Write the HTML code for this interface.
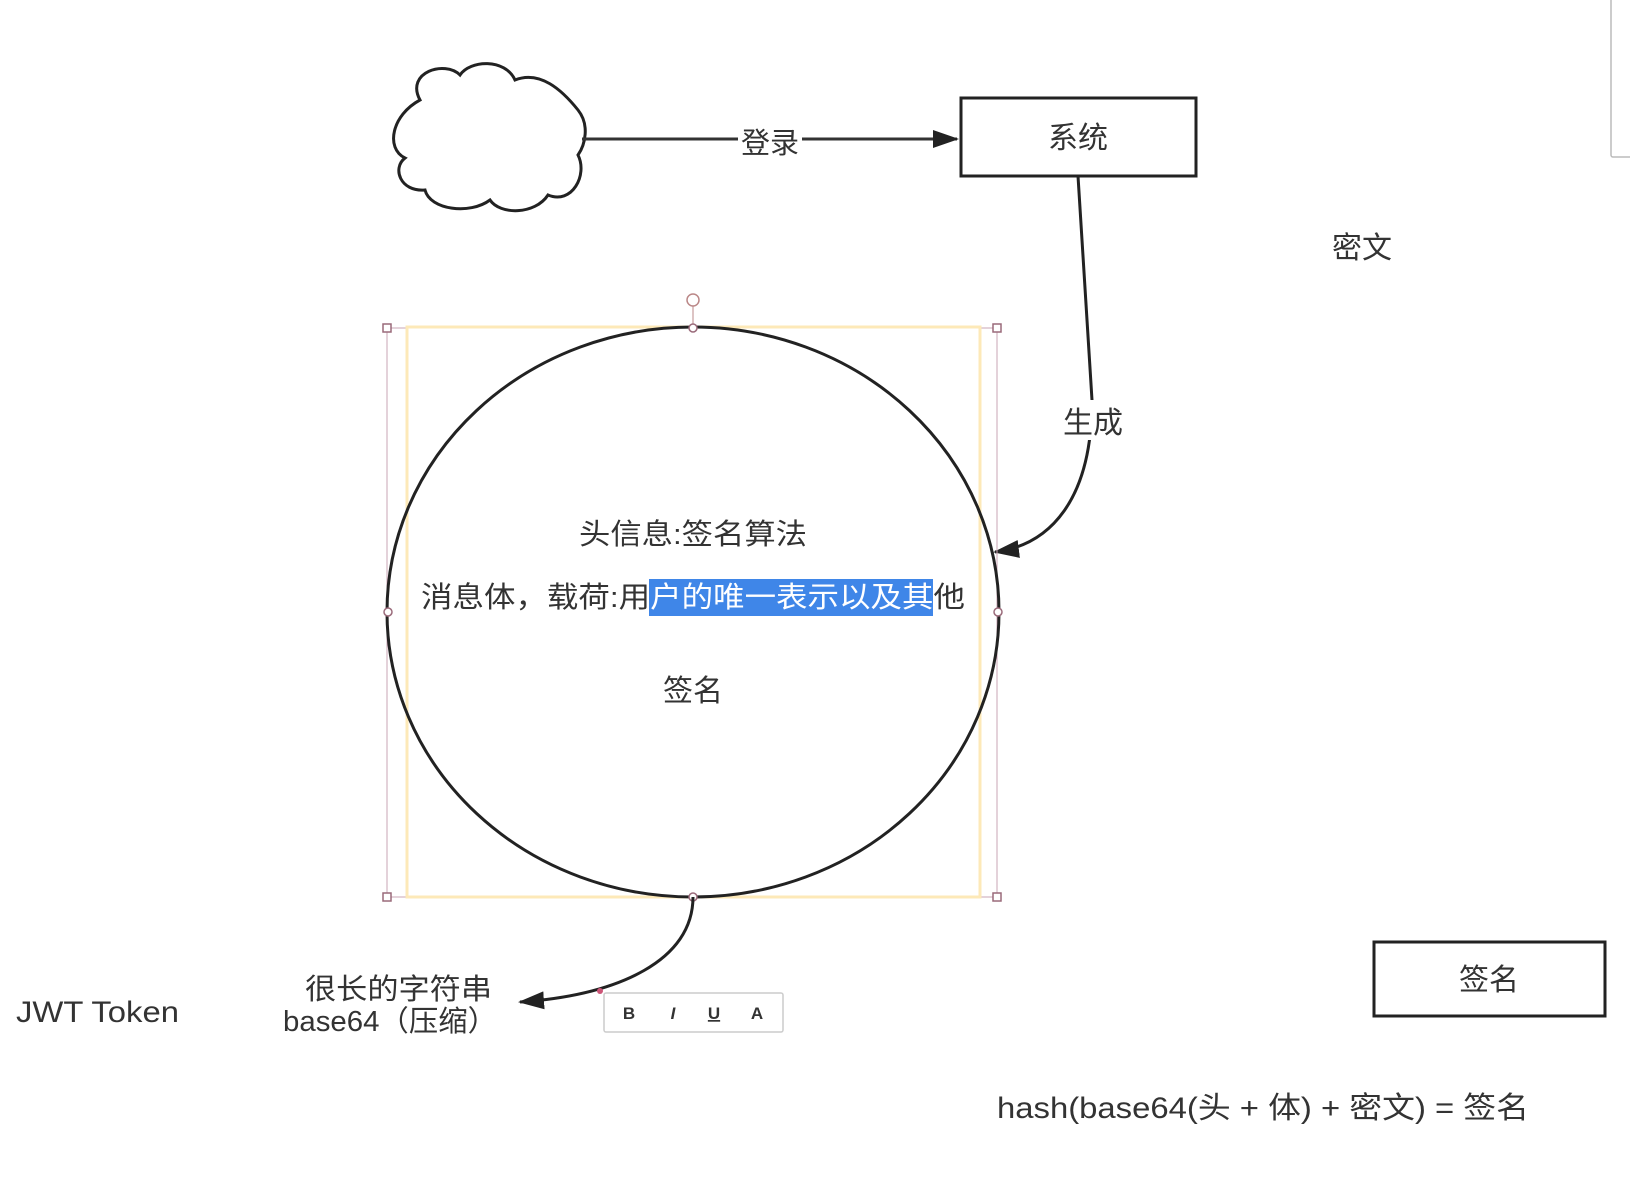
<!DOCTYPE html>
<html><head><meta charset="utf-8"><style>
html,body{margin:0;padding:0;background:#fff;}
svg{display:block;}
text{font-family:"Liberation Sans","Noto Sans CJK SC",sans-serif;fill:#333;}
</style></head><body>
<svg width="1630" height="1204" viewBox="0 0 1630 1204" xmlns="http://www.w3.org/2000/svg">
<defs>
<marker id="ah2" markerWidth="26" markerHeight="18" refX="24" refY="9" orient="auto" markerUnits="userSpaceOnUse"><path d="M0,0 L26,9 L0,18 Z" fill="#222"/></marker>
</defs>
<path d="M420,100 C405,72 445,60 460,75 C470,60 505,58 515,80 C540,70 562,90 578,110 C590,125 585,145 578,155 C588,175 572,205 548,195 C535,215 500,215 490,200 C470,215 430,210 425,190 C400,192 392,168 405,158 C385,148 392,115 420,100 Z" fill="#fff" stroke="#222" stroke-width="3"/>
<line x1="582" y1="139" x2="957" y2="139" stroke="#333" stroke-width="3" marker-end="url(#ah2)"/>
<rect x="738" y="124" width="64" height="34" fill="#fff"/>
<text x="770" y="153" font-size="29" text-anchor="middle">登录</text>
<rect x="961" y="98" width="235" height="78" fill="#fff" stroke="#222" stroke-width="3"/>
<text x="1078" y="148" font-size="30" text-anchor="middle">系统</text>
<text x="1362" y="258" font-size="30" text-anchor="middle">密文</text>
<path d="M1078,176 L1092,400 C1092,500 1050,545 995,552" fill="none" stroke="#222" stroke-width="3" marker-end="url(#ah2)"/>
<rect x="1060" y="400" width="64" height="40" fill="#fff"/>
<text x="1093" y="433" font-size="30" text-anchor="middle">生成</text>
<rect x="387" y="328" width="610" height="569" fill="none" stroke="#c9a4b4" stroke-width="1"/>
<rect x="407" y="327" width="573" height="570" fill="none" stroke="#fde9b8" stroke-width="3"/>
<line x1="693" y1="305" x2="693" y2="328" stroke="#b88" stroke-width="1"/>
<circle cx="693" cy="300" r="6" fill="#fff" stroke="#b88" stroke-width="1.5"/>
<ellipse cx="693" cy="612" rx="306" ry="285" fill="none" stroke="#222" stroke-width="3"/>
<g fill="#fff" stroke="#9a6a7a" stroke-width="1.5">
<rect x="383" y="324" width="8" height="8"/><rect x="993" y="324" width="8" height="8"/>
<rect x="383" y="893" width="8" height="8"/><rect x="993" y="893" width="8" height="8"/>
<circle cx="388" cy="612" r="4"/><circle cx="998" cy="612" r="4"/>
<circle cx="693" cy="328" r="4"/><circle cx="693" cy="897" r="4"/>
</g>
<text x="579" y="544" font-size="29" textLength="228" lengthAdjust="spacingAndGlyphs">头信息:签名算法</text>
<rect x="649" y="579" width="284" height="37" fill="#3f86e8"/>
<text x="421" y="607" font-size="29" textLength="544" lengthAdjust="spacingAndGlyphs">消息体，载荷:用<tspan fill="#fff">户的唯一表示以及其</tspan>他</text>
<text x="693" y="701" font-size="30" text-anchor="middle">签名</text>
<path d="M693,897 C693,960 620,995 520,1002" fill="none" stroke="#222" stroke-width="3" marker-end="url(#ah2)"/>
<circle cx="600" cy="991" r="3" fill="#c57"/>
<text x="305" y="999" font-size="29" textLength="187" lengthAdjust="spacingAndGlyphs">很长的字符串</text>
<text x="283" y="1031" font-size="29" textLength="214" lengthAdjust="spacingAndGlyphs">base64（压缩）</text>
<text x="16" y="1022" font-size="30" textLength="163" lengthAdjust="spacingAndGlyphs">JWT Token</text>
<rect x="604" y="993" width="179" height="39" fill="#fff" stroke="#ccc" stroke-width="1.5" rx="2"/>
<text x="629" y="1019" font-size="17" font-weight="bold" text-anchor="middle" fill="#222">B</text>
<text x="673" y="1019" font-size="17" font-weight="bold" font-style="italic" text-anchor="middle" fill="#222">I</text>
<text x="714" y="1019" font-size="17" font-weight="bold" text-decoration="underline" text-anchor="middle" fill="#222">U</text>
<text x="757" y="1019" font-size="17" font-weight="bold" text-anchor="middle" fill="#222">A</text>
<rect x="1374" y="942" width="231" height="74" fill="#fff" stroke="#222" stroke-width="3"/>
<text x="1489" y="990" font-size="30" text-anchor="middle">签名</text>
<text x="997" y="1118" font-size="30" textLength="532" lengthAdjust="spacingAndGlyphs">hash(base64(头 + 体) + 密文) = 签名</text>
<rect x="1611" y="-5" width="30" height="162" fill="#fff" stroke="#bbb" stroke-width="1.5" rx="2"/>
</svg>
</body></html>
